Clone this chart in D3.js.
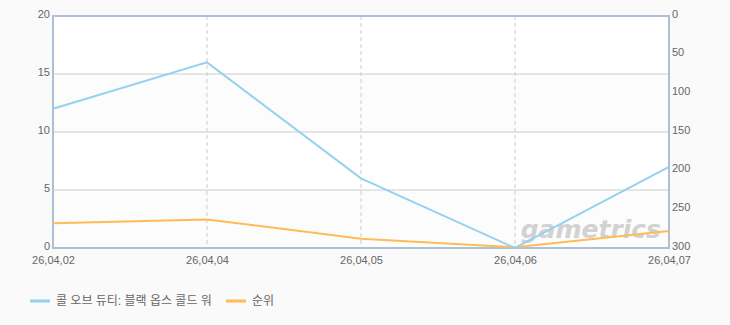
<!DOCTYPE html>
<html>
<head>
<meta charset="utf-8">
<script src="https://cdn.jsdelivr.net/npm/d3@7"></script>
<style>
  body { margin: 0; background: #fafafa; }
  svg { display: block; font-family: "Liberation Sans", "Noto Sans CJK KR", sans-serif; }
</style>
</head>
<body>
<svg id="chart" width="730" height="325"></svg>
<script>
const dates = ['26,04,02', '26,04,04', '26,04,05', '26,04,06', '26,04,07'];
const players = [12, 16, 6, 0, 7];
const ranks = [268, 263, 288, 299, 278];
const leftTicks = [0, 5, 10, 15, 20];
const rightTicks = [0, 50, 100, 150, 200, 250, 300];
const seriesNames = ['콜 오브 듀티: 블랙 옵스 콜드 워', '순위'];
const colors = ['#94d2f0', '#ffbb55'];

const svg = d3.select('#chart');
const margin = {top: 16, right: 61, bottom: 77, left: 53};
const width = 730, height = 325;
const w = width - margin.left - margin.right;
const h = height - margin.top - margin.bottom;

const g = svg.append('g').attr('transform', `translate(${margin.left},${margin.top})`);

const x = d3.scalePoint().domain(dates).range([0, w]);
const y = d3.scaleLinear().domain([0, 20]).range([h, 0]);
const yr = d3.scaleLinear().domain([0, 300]).range([0, h]);

// plot background bands
g.selectAll('rect.band')
  .data(d3.pairs(leftTicks))
  .enter().append('rect')
  .attr('x', 0)
  .attr('y', d => y(d[1]))
  .attr('width', w)
  .attr('height', d => y(d[0]) - y(d[1]))
  .attr('fill', (d, i) => i % 2 === 0 ? '#fcfcfc' : '#ffffff');

// horizontal grid
g.selectAll('line.hgrid')
  .data(leftTicks.slice(1, -1))
  .enter().append('line')
  .attr('x1', 0).attr('x2', w)
  .attr('y1', d => y(d)).attr('y2', d => y(d))
  .attr('stroke', '#cccccc');

// vertical dashed grid
g.selectAll('line.vgrid')
  .data(dates.slice(1, -1))
  .enter().append('line')
  .attr('x1', d => x(d)).attr('x2', d => x(d))
  .attr('y1', 0).attr('y2', h)
  .attr('stroke', '#cccccc')
  .attr('stroke-dasharray', '4,3');

// watermark
g.append('text')
  .attr('x', w - 8)
  .attr('y', h - 10)
  .attr('text-anchor', 'end')
  .attr('font-size', 25)
  .attr('font-weight', 'bold')
  .attr('font-style', 'italic')
  .attr('fill', '#c4c4c4')
  .attr('opacity', 0.75)
  .attr('font-family', 'DejaVu Sans')
  .text('gametrics');

// frame
g.append('rect')
  .attr('x', 0).attr('y', 0).attr('width', w).attr('height', h)
  .attr('fill', 'none')
  .attr('stroke', '#adc0d6')
  .attr('stroke-width', 2);

// lines
const lineL = d3.line().x((d, i) => x(dates[i])).y(d => y(d));
const lineR = d3.line().x((d, i) => x(dates[i])).y(d => yr(d));

g.append('path').datum(ranks)
  .attr('fill', 'none').attr('stroke', colors[1]).attr('stroke-width', 2)
  .attr('d', lineR);
g.append('path').datum(players)
  .attr('fill', 'none').attr('stroke', colors[0]).attr('stroke-width', 2)
  .attr('d', lineL);

// axes
const axisStyle = sel => {
  sel.select('.domain').remove();
  sel.selectAll('.tick line').remove();
  sel.selectAll('.tick text').attr('fill', '#666').attr('font-size', 11);
};

g.append('g')
  .call(d3.axisLeft(y).tickValues(leftTicks).tickSize(0).tickPadding(3))
  .call(axisStyle)
  .selectAll('.tick text').attr('dy', '0.1em');

g.append('g')
  .attr('transform', `translate(${w},0)`)
  .call(d3.axisRight(yr).tickValues(rightTicks).tickSize(0).tickPadding(3))
  .call(axisStyle)
  .selectAll('.tick text').attr('dy', '0.1em');

g.append('g')
  .attr('transform', `translate(0,${h})`)
  .call(d3.axisBottom(x).tickSize(0).tickPadding(8))
  .call(axisStyle);

// legend
const legend = svg.append('g').attr('transform', 'translate(30,300)');
const items = legend.selectAll('g')
  .data(seriesNames)
  .enter().append('g')
  .attr('transform', (d, i) => `translate(${i === 0 ? 0 : 196},0)`);
items.append('line')
  .attr('x1', 0).attr('x2', 20).attr('y1', 1).attr('y2', 1)
  .attr('stroke', (d, i) => colors[i]).attr('stroke-width', 3);
items.append('text')
  .attr('x', 26).attr('y', 5)
  .attr('font-size', 12)
  .attr('fill', '#666')
  .text(d => d);
</script>
</body>
</html>
